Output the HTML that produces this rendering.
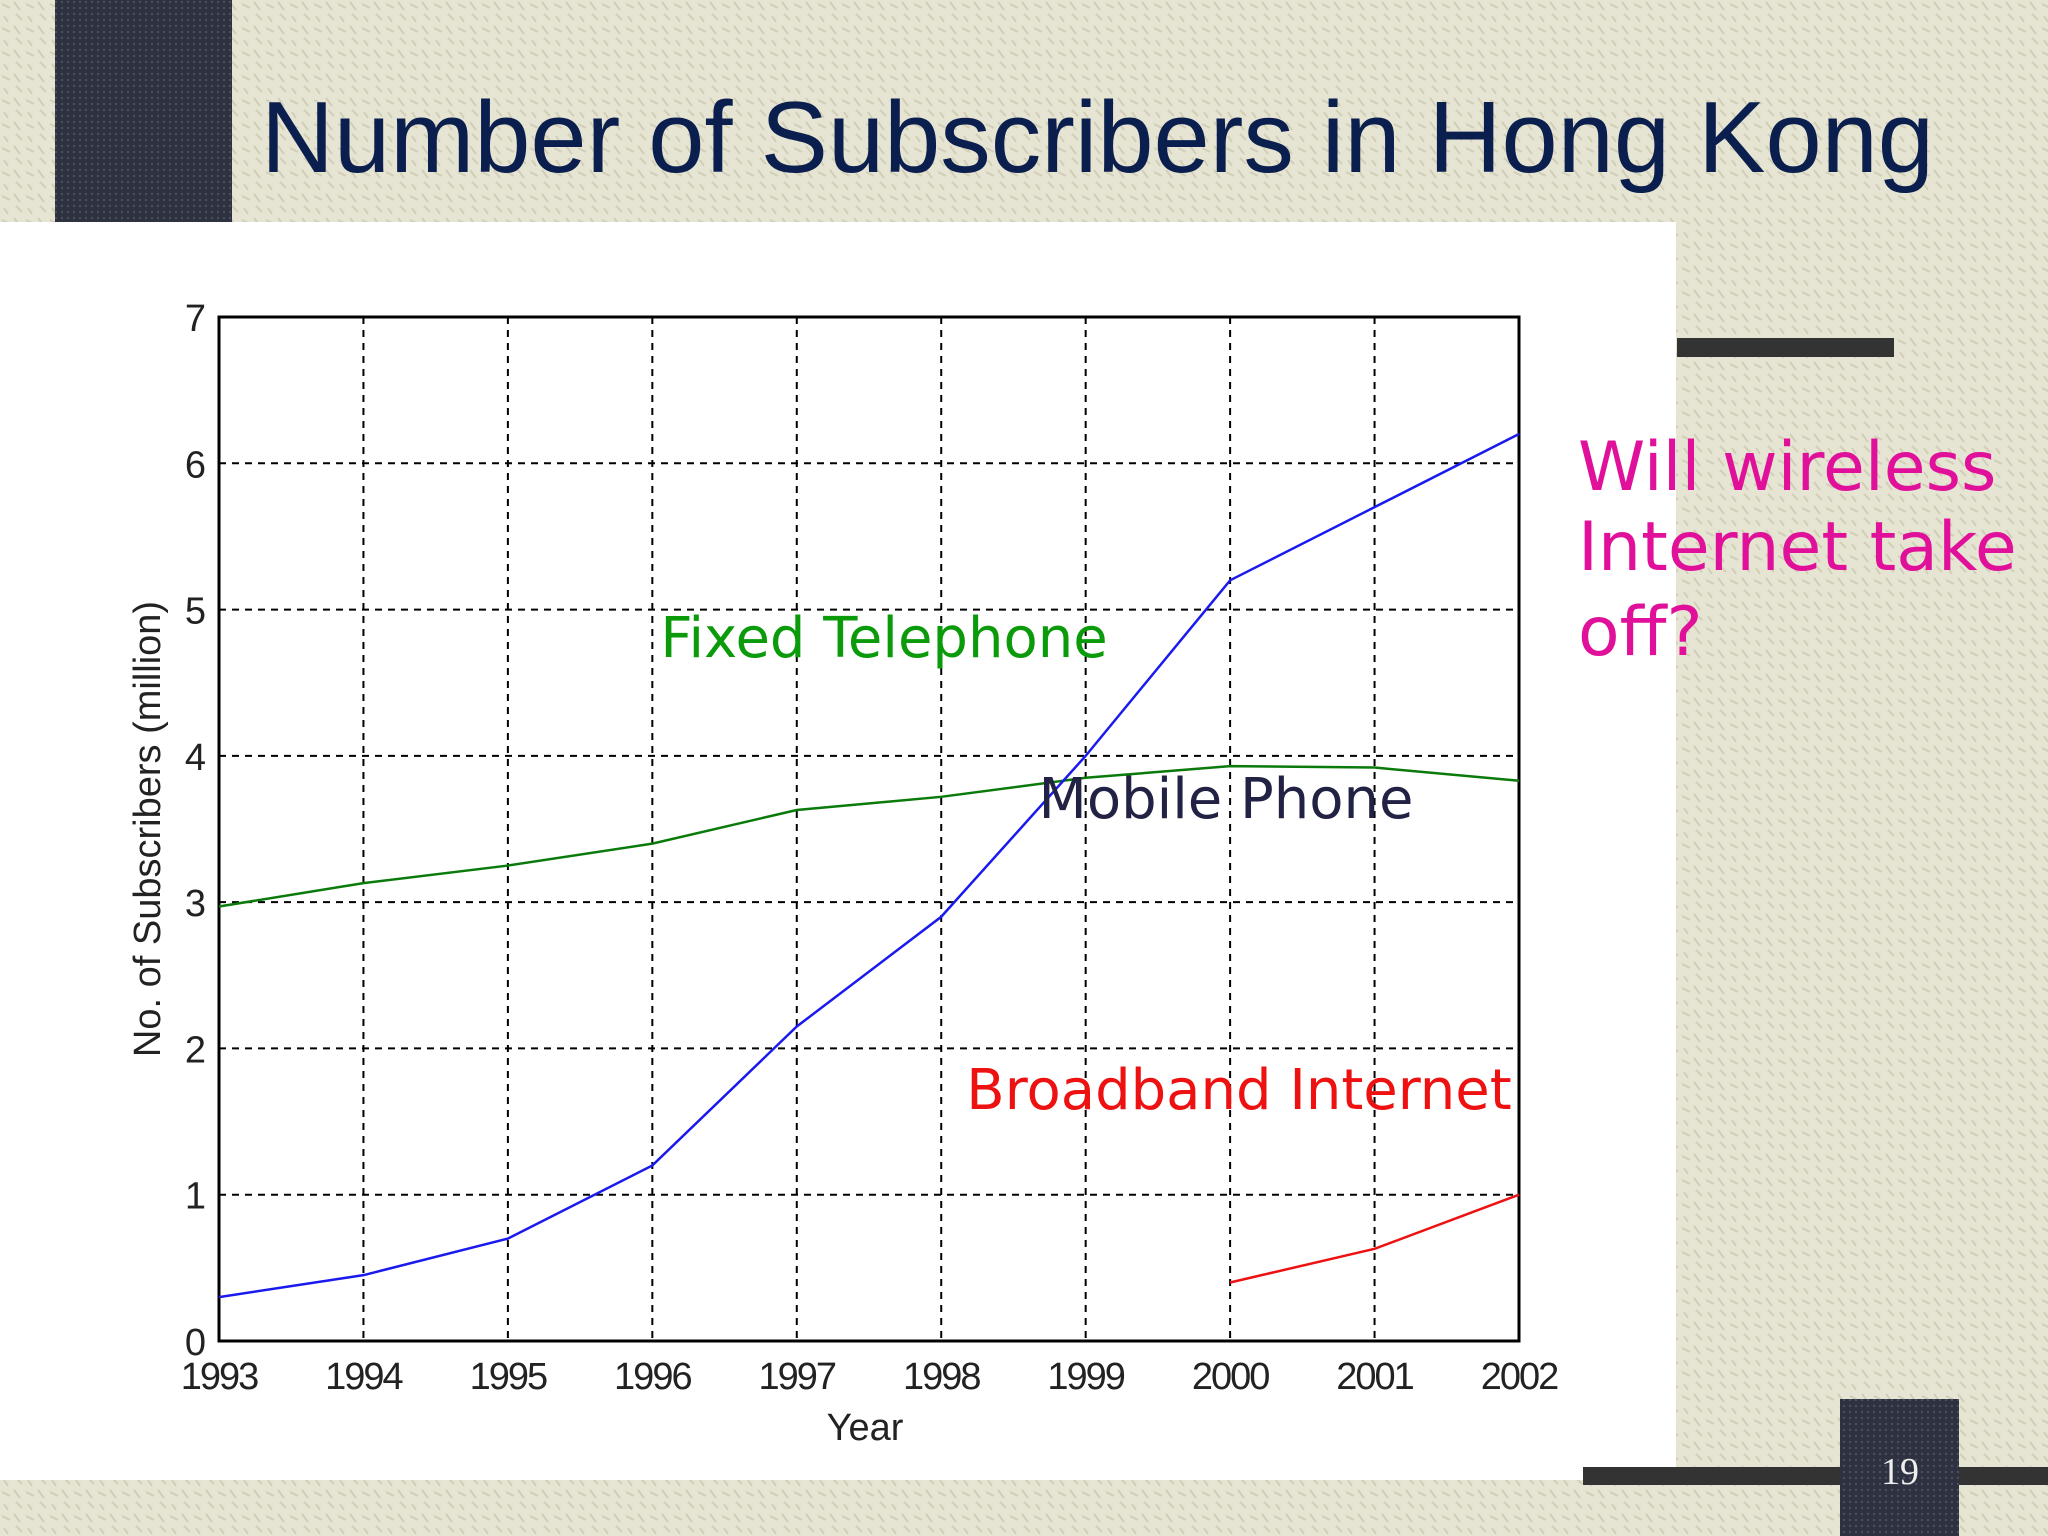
<!DOCTYPE html>
<html><head><meta charset="utf-8"><style>
html,body{margin:0;padding:0;width:2048px;height:1536px;overflow:hidden;background:#e4e2cf;}
svg{display:block}
</style></head><body>
<svg id="s" width="2048" height="1536" xmlns="http://www.w3.org/2000/svg">
<defs>
<pattern id="tex" width="24" height="24" patternUnits="userSpaceOnUse">
<rect width="24" height="24" fill="#e6e4d2"/>
<path d="M2 4 L10 8 M14 2 L20 10 M4 16 L8 22 M16 14 L22 20" stroke="#d2cfb8" stroke-width="2"/>
</pattern>
<pattern id="dark" width="6" height="6" patternUnits="userSpaceOnUse">
<rect width="6" height="6" fill="#2e3140"/><circle cx="2" cy="2" r="1.2" fill="#4a4e60"/>
</pattern>
</defs>
<rect width="2048" height="1536" fill="url(#tex)"/>
<rect x="55" y="0" width="177" height="222" fill="url(#dark)"/>
<text x="261" y="172" font-family="Liberation Sans, sans-serif" font-size="101" fill="#0b1f4f">Number of Subscribers in Hong Kong</text>
<rect x="0" y="222" width="1676" height="1258" fill="#ffffff"/>
<rect x="1677" y="338" width="217" height="19" fill="#333333"/>
<rect x="1583" y="1467" width="465" height="18" fill="#333333"/>
<rect x="1840" y="1399" width="119" height="137" fill="url(#dark)"/>
<text x="1900" y="1484" text-anchor="middle" font-family="Liberation Serif, serif" font-size="38" fill="#eeeeee">19</text>
<g font-family="DejaVu Sans, sans-serif" font-size="68" fill="#e0109a">
<text x="1578" y="490">Will wireless</text>
<text x="1578" y="570">Internet take</text>
<text x="1578" y="655">off?</text>
</g>
<g id="chart"></g>
</svg>
<script>
const years=[1993,1994,1995,1996,1997,1998,1999,2000,2001,2002];
const mobile=[0.3,0.45,0.7,1.2,2.15,2.9,4.0,5.2,5.7,6.2];
const fixed=[2.97,3.13,3.25,3.4,3.63,3.72,3.85,3.93,3.92,3.83];
const bbYears=[2000,2001,2002];
const broadband=[0.4,0.63,1.0];
const yTicks=[0,1,2,3,4,5,6,7];
const L=219,R=1519,T=317,B=1341;
const x=v=>L+(v-1993)/(2002-1993)*(R-L);
const y=v=>B-(v/7)*(B-T);
const NS='http://www.w3.org/2000/svg';
const g=document.getElementById('chart');
function mk(tag,attrs){const e=document.createElementNS(NS,tag);for(const k in attrs)e.setAttribute(k,attrs[k]);g.appendChild(e);return e;}
yTicks.forEach(t=>{
 if(t>0&&t<7){const l=mk('line',{x1:L,x2:R,y1:y(t),y2:y(t),stroke:'#000','stroke-width':2,'stroke-dasharray':'7,6'});
 
 }
 const tx=mk('text',{x:206,y:y(t)+14,'text-anchor':'end','font-family':'Liberation Sans, sans-serif','font-size':38,fill:'#222'});
 tx.textContent=t;
 
 
});
years.forEach(yr=>{
 if(yr>1993&&yr<2002){const l=mk('line',{x1:x(yr),x2:x(yr),y1:T,y2:B,stroke:'#000','stroke-width':2,'stroke-dasharray':'7,6'});
 
 }
 const tx=mk('text',{x:x(yr),y:B+48,'text-anchor':'middle','font-family':'Liberation Sans, sans-serif','font-size':38,fill:'#222','letter-spacing':'-2'});
 tx.textContent=yr;
 
 
});
const fr=mk('rect',{x:L,y:T,width:R-L,height:B-T,fill:'none',stroke:'#000','stroke-width':3});


function line(xs,vs,color,name){
 const p=mk('polyline',{points:xs.map((a,i)=>x(a)+','+y(vs[i])).join(' '),fill:'none',stroke:color,'stroke-width':2.5});
 
 
}
line(years,fixed,'#0a7a0a','fixed-telephone-line');
line(years,mobile,'#1a1aee','mobile-phone-line');
line(bbYears,broadband,'#ee1111','broadband-line');
function lab(t,xx,yy,c,fs,name,anchor,rot){
 const e=mk('text',{x:xx,y:yy,fill:c,'font-size':fs,'font-family':anchor==='sans'?'Liberation Sans, sans-serif':'DejaVu Sans, sans-serif','text-anchor':'middle'});
 if(rot)e.setAttribute('transform','rotate(-90 '+xx+' '+yy+')');
 e.textContent=t;
 
 
}
lab('Fixed Telephone',884,657,'#0a9a0a',56,'fixed-telephone-label');
lab('Mobile Phone',1226,818,'#222244',56,'mobile-phone-label');
lab('Broadband Internet',1239,1109,'#ee1111',56,'broadband-label');
lab('Year',865,1440,'#222',38,'x-axis-title','sans');
lab('No. of Subscribers (million)',160,829,'#222',38,'y-axis-title','sans',true);
</script>
</body></html>
